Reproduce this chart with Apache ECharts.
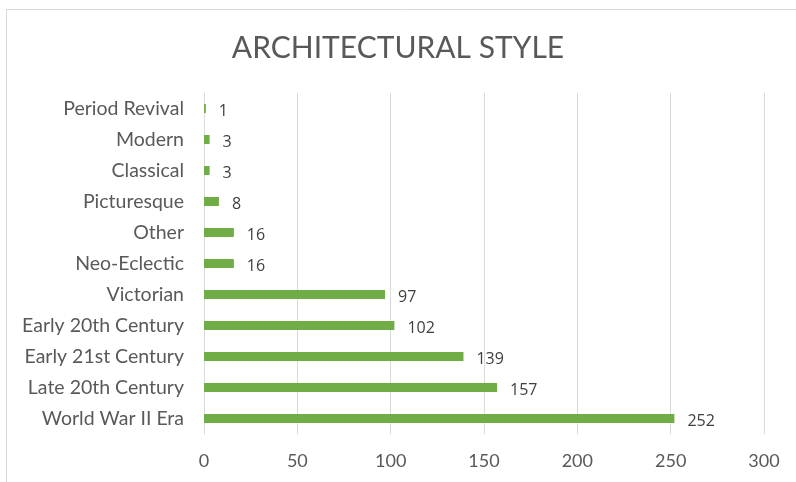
<!DOCTYPE html>
<html>
<head>
<meta charset="utf-8">
<script src="https://cdn.jsdelivr.net/npm/echarts@6/dist/echarts.min.js"></script>
<style>
html,body{margin:0;padding:0;background:#fff;}
#chart{width:796px;height:482px;}
</style>
</head>
<body>
<div id="chart"></div>
<script>
const categories = ["World War II Era","Late 20th Century","Early 21st Century","Early 20th Century","Victorian","Neo-Eclectic","Other","Picturesque","Classical","Modern","Period Revival"];
const values = [252,157,139,102,97,16,16,8,3,3,1];
const xTicks = [0,50,100,150,200,250,300];
const titleText = "ARCHITECTURAL STYLE";

const chart = echarts.init(document.getElementById('chart'), null, {renderer:'canvas'});
chart.setOption({
  animation:false,
  backgroundColor:'#fff',
  graphic:[{type:'rect',shape:{x:6.5,y:9.5,width:900,height:600},style:{fill:'none',stroke:'#d9d9d9',lineWidth:1},silent:true}],
  title:{text:titleText,left:'center',top:28,textStyle:{fontFamily:'Lato',fontWeight:'normal',fontSize:30,color:'#595959'}},
  grid:{left:204,right:32,top:93,bottom:48,containLabel:false},
  xAxis:{type:'value',min:xTicks[0],max:xTicks[xTicks.length-1],interval:50,
    axisLine:{show:false},axisTick:{show:false},
    splitLine:{lineStyle:{color:'#d9d9d9',width:1}},
    axisLabel:{margin:18,fontFamily:'Lato',fontSize:18,color:'#595959'}},
  yAxis:{type:'category',data:categories,
    axisLine:{show:true,lineStyle:{color:'#d9d9d9'}},axisTick:{show:false},
    axisLabel:{margin:20,fontFamily:'Lato',fontSize:19.5,color:'#595959'}},
  series:[{type:'bar',data:values,barWidth:'29%',itemStyle:{color:'#70ad47'},
    label:{show:true,position:'right',distance:13,offset:[0,3],fontFamily:'Open Sans',fontSize:16,color:'#404040'}}]
});
</script>
</body>
</html>
